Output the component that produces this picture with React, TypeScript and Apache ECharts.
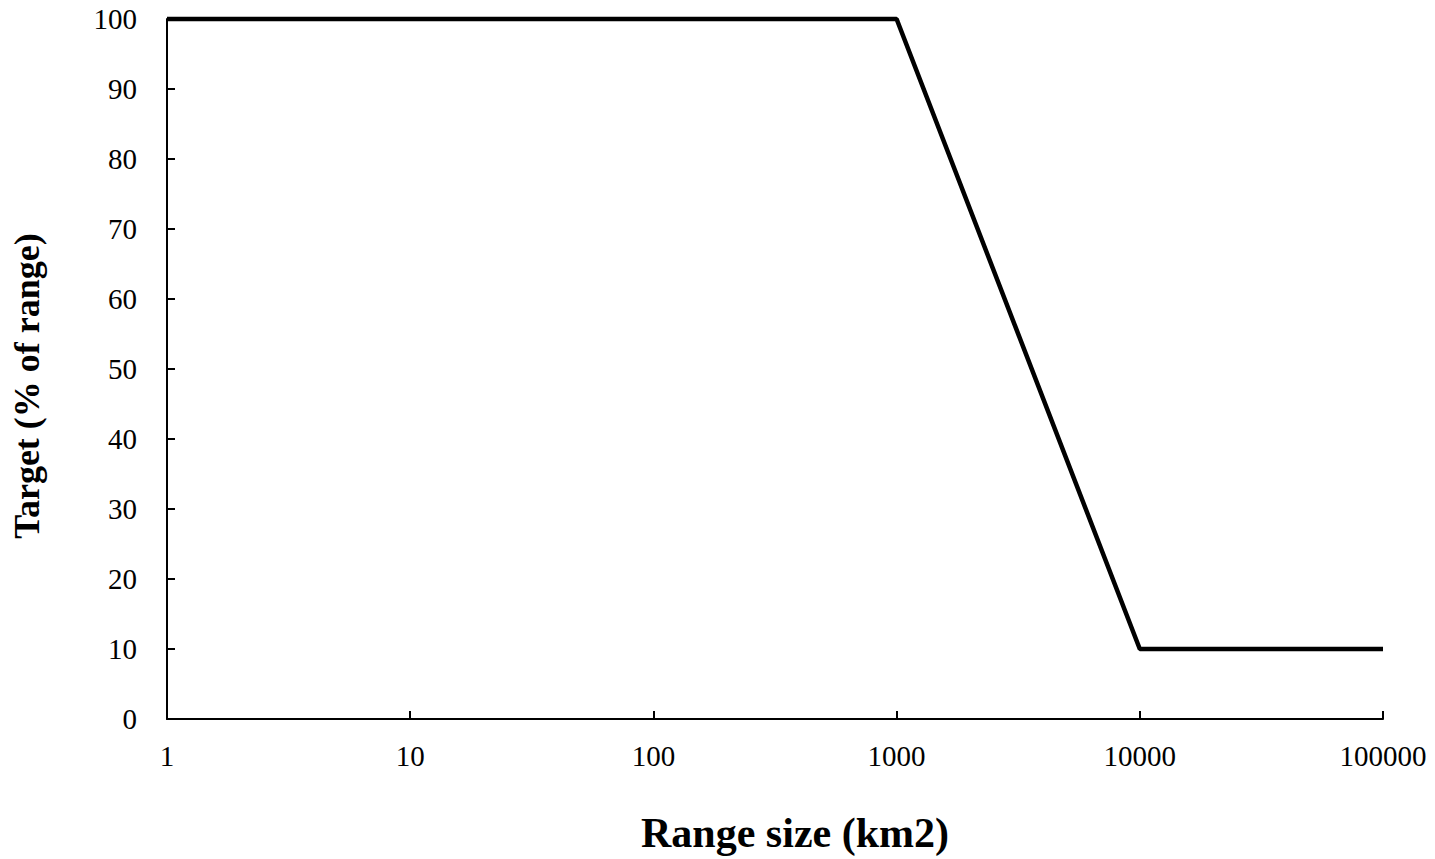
import React, { useEffect, useRef } from "react";
import * as echarts from "echarts";

const rangeSizes = [1, 1000, 10000, 100000];
const targets = [100, 100, 10, 10];
const xTitle = "Range size (km2)";
const yTitle = "Target (% of range)";

export default function App() {
  const ref = useRef<HTMLDivElement>(null);
  useEffect(() => {
    if (!ref.current) return;
    const chart = echarts.init(ref.current, undefined, { renderer: "svg" });
    const font = "'Liberation Serif', 'Times New Roman', serif";
    chart.setOption({
      animation: false,
      backgroundColor: "#ffffff",
      grid: {
        left: 167,
        right: 52,
        top: 19,
        bottom: 140,
        containLabel: false,
        outerBoundsMode: "none",
      },
      xAxis: {
        type: "log",
        logBase: 10,
        min: 1,
        max: 100000,
        axisLine: { lineStyle: { color: "#000", width: 2 } },
        axisTick: { inside: true, length: 8, lineStyle: { color: "#000", width: 2 } },
        minorTick: { show: false },
        splitLine: { show: false },
        axisLabel: {
          color: "#000",
          fontFamily: font,
          fontSize: 29,
          margin: 22,
          formatter: (v: number) => String(Math.round(v)),
        },
        name: xTitle,
        nameLocation: "middle",
        nameGap: 93,
        nameTextStyle: {
          color: "#000",
          fontFamily: font,
          fontSize: 42,
          fontWeight: "bold",
          padding: [0, 0, 0, 40],
        },
      },
      yAxis: {
        type: "value",
        min: 0,
        max: 100,
        interval: 10,
        axisLine: { show: true, lineStyle: { color: "#000", width: 2 } },
        axisTick: { show: true, inside: true, length: 8, lineStyle: { color: "#000", width: 2 } },
        splitLine: { show: false },
        axisLabel: {
          color: "#000",
          fontFamily: font,
          fontSize: 29,
          margin: 30,
        },
        name: yTitle,
        nameLocation: "middle",
        nameGap: 122,
        nameTextStyle: {
          color: "#000",
          fontFamily: font,
          fontSize: 36,
          fontWeight: "bold",
          padding: [0, 34, 0, 0],
        },
      },
      series: [
        {
          type: "line",
          data: rangeSizes.map((x, i) => [x, targets[i]]),
          symbol: "none",
          lineStyle: { color: "#000", width: 4.5 },
          clip: false,
        },
      ],
    });
    return () => chart.dispose();
  }, []);
  return (
    <div
      ref={ref}
      style={{ position: "absolute", left: 0, top: 0, width: 1435, height: 859 }}
    />
  );
}
